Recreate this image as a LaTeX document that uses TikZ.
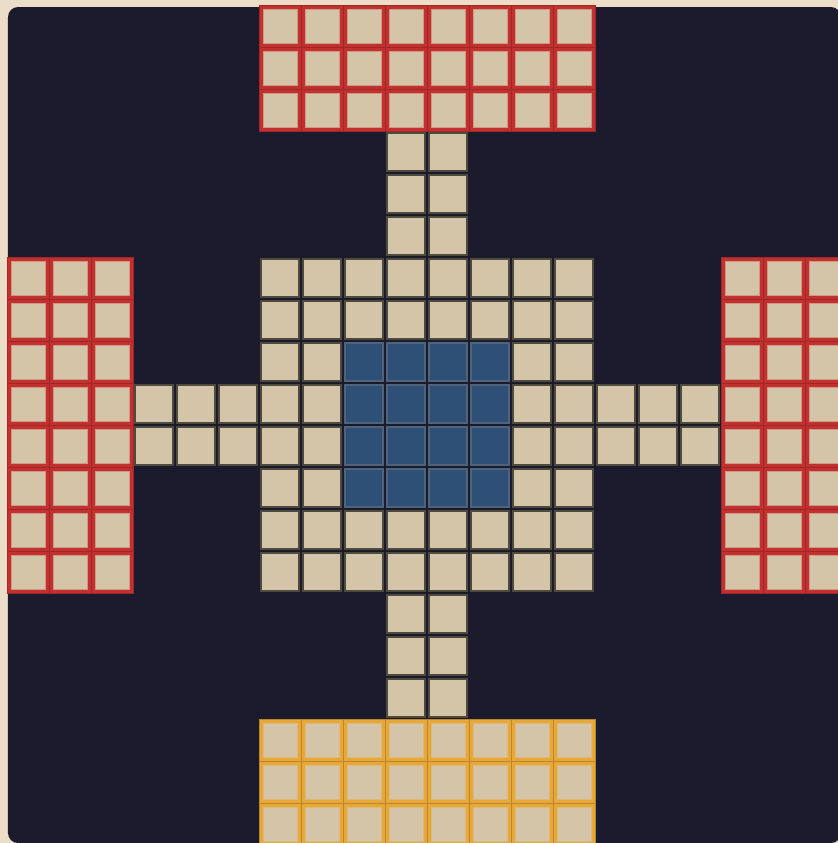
\documentclass[tikz,border=0pt]{standalone}
\usepackage{xcolor}
\usepackage{tikz}

\definecolor{pagebg}{HTML}{EBDDC8}
\definecolor{boardbg}{HTML}{1B1B2D}
\definecolor{tilebeige}{HTML}{D4C5A8}
\definecolor{tileedge}{HTML}{4F4A3E}
\definecolor{homered}{HTML}{C23030}
\definecolor{homeorange}{HTML}{E8A838}
\definecolor{centerblue}{HTML}{2E5077}

\tikzset{
  pathtile/.style={
    fill=tilebeige, draw=tileedge, line width=0.6pt
  },
  centertile/.style={
    fill=centerblue, draw=centerblue!60!gray, line width=0.6pt
  },
  redhome/.style={
    fill=homered, draw=homered!82!black, line width=0.5pt
  },
  orangehome/.style={
    fill=homeorange, draw=homeorange!80!black, line width=0.5pt
  },
  redtile/.style={
    fill=tilebeige, draw=tilebeige!70!homered, line width=0.5pt
  },
  orangetile/.style={
    fill=tilebeige, draw=tilebeige!60!homeorange, line width=0.5pt
  },
}

% one square of the track, column #1, row #2
\newcommand{\trackcell}[3]{%
  \draw[#1] ({9+42*#2},{7+42*#3}) rectangle +(38,38);}
% one square of a home area: area style #1, tile style #2
\newcommand{\homecell}[4]{%
  \draw[#1] ({7+42*#3},{5+42*#4}) rectangle +(42,42);
  \draw[#2] ({11+42*#3},{9+42*#4}) rectangle +(34,34);}

\begin{document}
\begin{tikzpicture}[x=0.5pt, y=-0.5pt]
  % page and board
  \useasboundingbox (0,0) rectangle (838,843);
  \fill[pagebg] (0,0) rectangle (838,843);
  \clip (0,0) rectangle (838,843);
  \fill[boardbg, rounded corners=5pt] (8,7) rectangle (841,843);

  % home areas
  \foreach \c in {6,...,13} \foreach \r in {0,1,2}
    {\homecell{redhome}{redtile}{\c}{\r}}
  \foreach \c in {0,1,2} \foreach \r in {6,...,13}
    {\homecell{redhome}{redtile}{\c}{\r}}
  \foreach \c in {17,18,19} \foreach \r in {6,...,13}
    {\homecell{redhome}{redtile}{\c}{\r}}
  \foreach \c in {6,...,13} \foreach \r in {17,18,19}
    {\homecell{orangehome}{orangetile}{\c}{\r}}

  % arms of the track
  \foreach \c in {9,10} \foreach \r in {3,4,5,14,15,16}
    {\trackcell{pathtile}{\c}{\r}}
  \foreach \c in {3,4,5,14,15,16} \foreach \r in {9,10}
    {\trackcell{pathtile}{\c}{\r}}

  % central square
  \foreach \c in {6,...,13} \foreach \r in {6,...,13}
    {\trackcell{pathtile}{\c}{\r}}
  \foreach \c in {8,...,11} \foreach \r in {8,...,11}
    {\trackcell{centertile}{\c}{\r}}
\end{tikzpicture}
\end{document}
